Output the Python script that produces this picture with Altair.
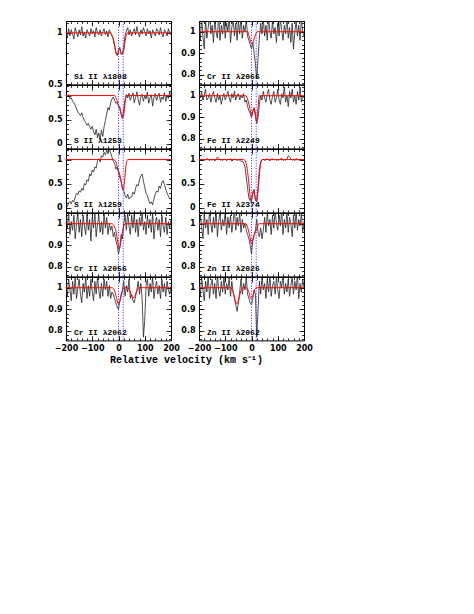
import altair as alt
import pandas as pd
import numpy as np

# velocity grid (km/s) for all spectra
vel = list(range(-200, 205, 5))
components = [0, 18]

labels = ["Si II λ1808", "Cr II λ2066", "S II λ1253", "Fe II λ2249",
          "S II λ1259", "Fe II λ2374", "Cr II λ2056", "Zn II λ2026",
          "Cr II λ2062", "Zn II λ2062"]

si1808 = [1.02,0.95,1.04,0.97,1.03,0.99,0.94,1.05,1.00,0.96,
          1.03,0.98,1.06,0.97,1.01,0.95,1.03,1.00,0.97,1.04,
          0.99,1.02,0.96,1.05,1.00,0.98,1.03,0.97,1.01,1.04,
          0.98,1.02,0.96,1.03,1.00,0.97,0.95,0.88,0.80,0.78,
          0.83,0.86,0.79,0.80,0.87,0.97,1.02,1.05,0.98,1.03,
          0.97,1.01,1.04,0.98,1.06,1.00,0.96,1.03,0.99,1.05,
          1.01,0.97,1.04,0.99,1.02,0.95,1.03,1.00,0.97,1.04,
          1.02,0.98,1.05,0.99,0.96,1.03,1.01,0.97,1.04,1.00,
          0.98]
cr2066 = [1.04,0.96,1.07,0.98,0.92,1.05,0.97,1.02,1.08,0.99,
          1.03,0.95,1.06,1.00,0.97,1.08,0.96,1.03,0.99,1.06,
          0.97,1.04,1.00,1.07,0.95,1.02,1.06,0.98,1.04,0.96,
          1.05,0.99,1.07,0.97,1.03,1.00,1.06,0.98,0.96,0.94,
          0.92,0.95,0.90,0.85,0.78,0.88,0.97,1.04,0.99,1.06,
          0.98,1.03,0.96,1.07,1.00,0.97,1.05,0.99,1.02,0.95,
          1.04,0.98,1.06,1.01,0.96,1.03,0.99,1.07,0.97,1.02,
          0.95,1.04,0.92,1.00,1.05,0.98,1.03,0.96,1.06,1.00,
          0.98]
s1253 = [1.00,0.97,1.02,0.93,0.95,0.88,0.85,0.80,0.72,0.66,
         0.62,0.58,0.64,0.55,0.48,0.44,0.38,0.42,0.35,0.30,
         0.36,0.25,0.18,0.30,0.12,0.22,0.08,0.28,0.15,0.35,
         0.48,0.62,0.75,0.70,0.85,0.93,0.97,0.90,0.84,0.86,
         0.78,0.72,0.62,0.55,0.70,0.92,1.02,0.95,1.05,0.90,
         0.98,1.06,0.85,0.96,1.08,0.92,0.80,0.97,1.03,0.88,
         1.00,0.93,1.07,0.84,0.95,1.02,0.78,0.96,1.04,0.90,
         0.99,1.05,0.86,0.97,0.92,1.06,0.88,1.01,0.94,1.08,
         0.96]
fe2249 = [1.01,0.99,1.02,0.98,1.00,1.03,0.98,0.99,1.01,0.97,
          1.00,1.02,0.99,0.97,1.01,0.98,1.00,0.96,0.99,1.01,
          0.98,1.00,1.02,0.99,0.97,1.01,0.99,1.02,0.98,1.00,
          1.01,0.98,1.00,0.99,1.01,0.97,0.98,0.95,0.93,0.92,
          0.90,0.93,0.94,0.91,0.87,0.90,0.96,1.00,0.98,1.02,
          0.99,0.97,1.01,1.03,0.98,0.96,1.00,1.02,0.97,0.99,
          1.03,0.98,0.96,1.01,0.99,1.04,0.97,1.00,0.95,1.02,
          0.99,1.03,0.97,1.00,0.96,1.02,0.98,1.04,0.97,1.00,
          0.99]
s1259 = [0.05,0.02,0.10,0.13,0.08,0.15,0.12,0.22,0.30,0.27,
         0.35,0.32,0.40,0.36,0.50,0.47,0.58,0.55,0.70,0.66,
         0.78,0.74,0.85,0.82,0.98,1.02,0.95,1.08,1.05,1.15,
         1.10,1.20,1.12,1.22,1.14,1.05,0.97,0.92,0.80,0.85,
         0.72,0.62,0.55,0.40,0.35,0.25,0.20,0.28,0.18,0.22,
         0.22,0.32,0.28,0.40,0.48,0.45,0.58,0.66,0.70,0.55,
         0.42,0.30,0.25,0.15,0.08,0.12,0.06,0.18,0.28,0.35,
         0.32,0.45,0.40,0.52,0.56,0.48,0.38,0.30,0.24,0.18,
         0.20]
fe2374 = [1.00,0.99,1.01,0.98,1.00,0.99,1.02,1.00,0.98,1.00,
          0.99,1.01,0.97,1.00,1.05,1.03,0.99,1.00,0.98,1.01,
          1.00,0.98,1.01,0.99,1.02,0.97,0.99,1.01,1.00,0.98,
          1.00,0.99,0.96,0.97,0.93,0.85,0.65,0.40,0.20,0.14,
          0.12,0.30,0.38,0.15,0.12,0.45,0.80,0.95,0.99,1.01,
          0.98,1.00,1.02,0.99,0.97,1.00,1.02,0.99,1.01,0.98,
          1.00,0.99,1.01,1.03,0.98,1.00,0.99,1.01,1.08,1.06,
          1.01,0.99,1.00,0.98,1.02,1.00,0.99,1.01,0.98,1.00,
          0.99]
cr2056 = [1.03,0.98,1.05,0.95,1.01,0.97,1.04,0.93,1.00,1.05,
          0.96,1.02,0.94,1.04,0.99,0.95,1.05,0.97,1.02,0.92,
          1.03,0.98,1.05,0.94,1.00,1.04,0.96,1.01,0.95,1.05,
          0.98,1.03,0.95,1.00,0.97,0.99,0.94,0.96,0.92,0.90,
          0.86,0.89,0.95,0.93,1.00,1.04,0.97,1.05,0.99,0.95,
          1.04,0.98,1.05,0.96,1.02,0.94,1.03,0.99,1.05,0.97,
          1.01,0.95,1.04,0.98,1.02,0.96,1.05,0.93,1.00,1.03,
          0.97,1.02,0.94,1.04,0.99,0.96,1.03,0.95,1.01,0.98,
          1.02]
zn2026 = [0.97,1.04,0.99,0.93,1.05,0.98,1.02,0.95,1.06,1.00,
          0.96,1.03,0.98,1.07,0.94,1.01,1.05,0.97,1.02,0.99,
          1.06,0.95,1.03,0.98,1.04,0.96,1.01,1.07,0.97,1.03,
          0.99,1.05,0.96,1.02,0.98,1.00,0.97,0.95,0.93,0.90,
          0.86,0.92,0.95,0.97,1.02,0.96,0.94,0.98,0.93,0.97,
          1.03,0.96,1.05,0.99,1.02,0.95,1.04,0.98,1.06,1.00,
          0.97,1.04,0.99,1.06,0.95,1.02,0.98,1.05,0.96,1.03,
          1.00,0.94,1.04,0.98,1.06,0.97,1.02,0.99,1.05,0.96,
          1.01]
cr2062 = [1.02,0.96,1.04,0.99,0.94,1.03,0.97,1.05,0.95,1.00,
          1.04,0.97,0.93,1.02,0.98,1.05,0.95,1.01,0.96,1.04,
          0.98,0.94,1.03,0.97,1.05,0.99,0.95,1.02,0.96,1.04,
          0.99,1.03,0.96,1.01,0.95,0.98,0.97,0.95,0.93,0.91,
          0.90,0.94,0.97,0.99,1.03,0.96,1.01,0.98,1.04,0.95,
          0.97,0.94,0.93,0.96,0.99,1.03,0.97,1.02,0.95,0.77,
          0.85,1.01,1.04,0.96,1.02,0.98,1.05,0.95,1.00,1.03,
          0.97,1.01,0.95,1.04,0.98,1.02,0.96,1.03,0.99,0.97,
          1.01]
zn2062 = [1.02,0.96,1.05,0.99,0.94,1.03,0.98,1.06,0.95,1.01,
          1.04,0.97,1.02,0.95,1.06,0.99,0.96,1.03,0.98,1.05,
          0.97,1.02,0.99,1.05,0.96,1.03,0.98,0.95,0.92,0.89,
          0.93,0.98,1.04,0.97,1.02,0.99,1.05,0.97,0.95,0.93,
          0.92,0.95,0.99,0.97,0.77,0.90,1.03,0.97,1.05,0.99,
          1.02,0.95,1.04,0.98,1.06,0.96,1.01,1.03,0.97,1.05,
          0.99,0.95,1.03,1.00,1.06,0.97,1.02,0.98,1.04,0.96,
          1.01,1.05,0.97,1.03,0.99,1.06,0.95,1.02,0.98,1.04,
          1.00]

spectra = [si1808, cr2066, s1253, fe2249, s1259, fe2374, cr2056, zn2026, cr2062, zn2062]

# fitted profiles (velocity, normalised flux)
model_v = [
    [-200,-32,-24,-16,-8,-4,3,10,14,20,27,35,200],
    [-200,-15,-8,-2,3,8,15,22,200],
    [-200,-15,-8,0,5,10,15,20,25,32,200],
    [-200,-22,-14,-6,0,6,10,14,19,24,30,200],
    [-200,-20,-10,-3,3,8,13,18,23,28,35,200],
    [-200,-30,-22,-15,-8,-3,3,7,12,19,25,32,40,200],
    [-200,-25,-15,-8,-3,2,7,12,18,25,200],
    [-200,-22,-14,-6,0,6,13,20,28,200],
    [-200,-25,-15,-7,-1,5,12,20,35,45,52,60,68,78,200],
    [-200,-80,-70,-62,-57,-50,-42,-34,-20,-10,-3,3,10,18,200],
]
model_f = [
    [1,1,0.97,0.89,0.80,0.785,0.85,0.80,0.79,0.83,0.95,1,1],
    [1,1,0.975,0.95,0.945,0.96,0.985,1,1],
    [1,1,0.93,0.80,0.76,0.62,0.52,0.60,0.85,1,1],
    [1,1,0.98,0.94,0.905,0.93,0.945,0.92,0.88,0.93,1,1],
    [1,1,0.95,0.82,0.72,0.62,0.45,0.36,0.55,0.85,1,1],
    [1,1,0.95,0.75,0.40,0.15,0.25,0.35,0.25,0.13,0.35,0.80,1,1],
    [1,1,0.985,0.955,0.915,0.885,0.90,0.94,0.98,1,1],
    [1,1,0.98,0.94,0.905,0.93,0.955,0.975,1,1],
    [1,1,0.985,0.95,0.925,0.935,0.97,1,1,0.98,0.955,0.955,0.98,1,1],
    [1,1,0.98,0.94,0.925,0.94,0.98,1,1,0.98,0.95,0.955,0.985,1,1],
]

SI = dict(dom=[0.5, 1.115], major=[0.5, 1.0], minor=[0.5, 0.6, 0.7, 0.8, 0.9, 1.0, 1.1])
WIDE = dict(dom=[-0.1, 1.22], major=[0, 0.5, 1.0],
            minor=[-0.1, 0, 0.1, 0.2, 0.3, 0.4, 0.5, 0.6, 0.7, 0.8, 0.9, 1.0, 1.1, 1.2])
NARROW = dict(dom=[0.755, 1.05], major=[0.8, 0.9, 1.0],
              minor=[0.76, 0.78, 0.8, 0.82, 0.84, 0.86, 0.88, 0.9, 0.92, 0.94, 0.96, 0.98, 1.0, 1.02, 1.04])
yspec = [SI, NARROW, WIDE, NARROW, WIDE, WIDE, NARROW, NARROW, NARROW, NARROW]

x_major = [-200, -100, 0, 100, 200]
x_minor = list(range(-200, 220, 20))

W, H = 105, 63.4
NUMFONT = "DejaVu Sans"
TXTFONT = "Liberation Mono"


def ax(orient, values, size, labels=False, fmt="~g", **kw):
    return alt.Axis(orient=orient, values=values, tickSize=size, offset=-size,
                    domain=False, grid=False, labels=labels, ticks=True,
                    tickColor="black", tickWidth=0.8, labelFont=NUMFONT,
                    labelFontSize=8, labelFontWeight="bold", labelColor="black",
                    labelPadding=4, labelFlush=False, labelOverlap=False,
                    format=fmt, **kw)


def panel(i):
    ys = yspec[i]
    bottom_row = i >= 8
    xs = alt.Scale(domain=[-200, 200], nice=False, zero=False)
    ysc = alt.Scale(domain=ys["dom"], nice=False, zero=False)
    df = pd.DataFrame({"v": vel, "f": spectra[i]})
    dm = pd.DataFrame({"v": model_v[i], "f": model_f[i]})
    dc = pd.DataFrame({"v": components})
    dl = pd.DataFrame({"name": [labels[i]]})

    spec = alt.Chart(df).mark_line(color="#222222", strokeWidth=0.8, clip=True).encode(
        x=alt.X("v:Q", scale=xs, axis=ax("bottom", x_minor, 2.5, title=None)),
        y=alt.Y("f:Q", scale=ysc, axis=ax("left", ys["minor"], 2.5, title=None)),
    )
    model = alt.Chart(dm).mark_line(color="#ff0000", strokeWidth=1, clip=True,
                                    interpolate="monotone").encode(
        x=alt.X("v:Q", scale=xs, axis=ax("top", x_minor, 2.5, title=None)),
        y=alt.Y("f:Q", scale=ysc, axis=ax("right", ys["minor"], 2.5, title=None)),
    )
    if i == 8:
        xbot = ax("bottom", x_major, 5, labels=True, fmt="d",
                  title="Relative velocity (km s⁻¹)", titleX=120, titleY=24,
                  titleAlign="center", titleBaseline="middle",
                  titleFont=TXTFONT, titleFontSize=10, titleFontWeight="bold",
                  titleColor="black")
    else:
        xbot = ax("bottom", x_major, 5, labels=bottom_row, fmt="d", title=None)
    rules = alt.Chart(dc).mark_rule(color="#3333ff", strokeWidth=0.9,
                                    strokeDash=[1.2, 1.5]).encode(
        x=alt.X("v:Q", scale=xs, axis=xbot),
        y=alt.Y(datum=ys["dom"][0], type="quantitative", scale=ysc,
                axis=ax("left", ys["major"], 5, labels=True, title=None)),
        y2=alt.Y2(datum=ys["dom"][1]),
    )
    txt = alt.Chart(dl).mark_text(align="left", baseline="alphabetic", dy=-5,
                                  font=TXTFONT, fontSize=8, fontWeight="bold",
                                  color="black").encode(
        x=alt.X(datum=-170, type="quantitative", scale=xs,
                axis=ax("top", x_major, 5, title=None)),
        y=alt.Y(datum=ys["dom"][0], type="quantitative", scale=ysc,
                axis=ax("right", ys["major"], 5, title=None)),
        text="name:N",
    )
    return alt.layer(spec, model, rules, txt).resolve_axis(
        x="independent", y="independent").properties(width=W, height=H)


chart = alt.concat(*[panel(i) for i in range(10)], columns=2,
                   spacing={"row": 0, "column": 28}, bounds="flush").properties(
    padding={"left": 39, "top": 12, "right": 5, "bottom": 5}
).configure_view(stroke="black", strokeWidth=1)

chart.save("out.html", embed_options={"renderer": "svg", "actions": False})
